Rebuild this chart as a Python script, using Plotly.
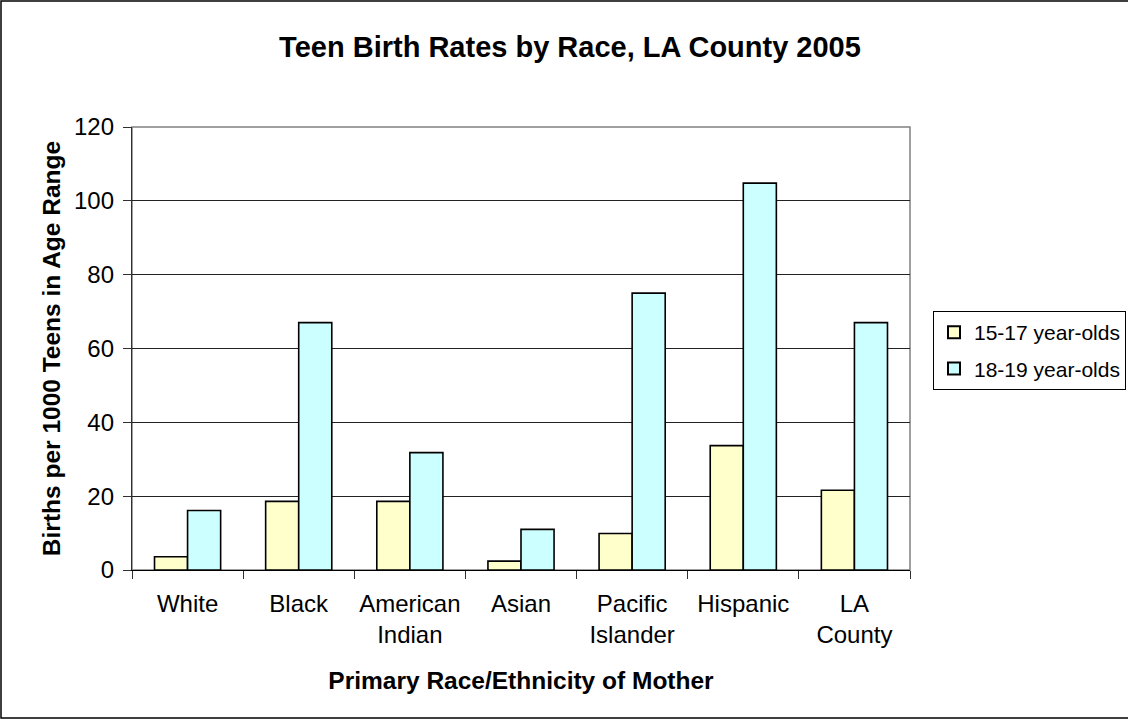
import plotly.graph_objects as go

categories = ["White", "Black", "American<br>Indian", "Asian", "Pacific<br>Islander", "Hispanic", "LA<br>County"]
age_15_17 = [3.6, 18.6, 18.6, 2.4, 9.9, 33.7, 21.6]
age_18_19 = [16.1, 67.0, 31.8, 11.0, 75.0, 104.8, 67.0]
series_names = ["15-17 year-olds", "18-19 year-olds"]
y_ticks = [0, 20, 40, 60, 80, 100, 120]

FONT = "Liberation Sans, Arial, sans-serif"

fig = go.Figure()
fig.add_trace(go.Bar(x=categories, y=age_15_17, name=series_names[0], legendgroup="a",
                     marker=dict(color="#FFFFCC", line=dict(color="black", width=1.6))))
fig.add_trace(go.Bar(x=categories, y=age_18_19, name=series_names[1], legendgroup="b",
                     marker=dict(color="#CCFFFF", line=dict(color="black", width=1.6))))

W, H = 1128, 719
L, R, T, B = 132, 910, 127, 570
pw, ph = R - L, B - T

fig.update_layout(
    width=W, height=H,
    margin=dict(l=L, r=W - R, t=T, b=H - B, autoexpand=False),
    paper_bgcolor="white", plot_bgcolor="white",
    font=dict(family=FONT, size=24, color="black"),
    title=dict(text="<b>Teen Birth Rates by Race, LA County 2005</b>",
               x=570 / W, xanchor="center", y=1 - 47 / H, yanchor="middle",
               font=dict(family=FONT, size=29, color="black")),
    barmode="group", bargap=0.405, bargroupgap=0,
    showlegend=True,
    legend=dict(x=(933 - L) / pw, y=(B - 311) / ph, xanchor="left", yanchor="top",
                bordercolor="black", borderwidth=1, bgcolor="white",
                font=dict(family=FONT, size=21, color="black"),
                traceorder="grouped", tracegroupgap=6, itemsizing="constant"),
    xaxis=dict(
        title=dict(text="<b>Primary Race/Ethnicity of Mother</b>", standoff=24,
                   font=dict(family=FONT, size=24.5)),
        showline=True, linecolor="black", linewidth=1.3, mirror=False,
        ticks="outside", tickson="boundaries", ticklen=8, tickcolor="#303030", tickwidth=1.3,
        ticklabelstandoff=12,
        showgrid=False, tickfont=dict(family=FONT, size=24),
    ),
    yaxis=dict(
        title=dict(text="<b>Births per 1000 Teens in Age Range</b>", standoff=6,
                   font=dict(family=FONT, size=24.5)),
        range=[0, 120], tickvals=y_ticks,
        showline=True, linecolor="#303030", linewidth=1.3, mirror=False,
        ticks="outside", ticklen=8, tickcolor="#303030", tickwidth=1.3,
        ticklabelstandoff=4,
        showgrid=True, gridcolor="#222222", gridwidth=1,
        tickfont=dict(family=FONT, size=24), zeroline=False,
    ),
)

# plot-area frame (grey top/right)
fig.add_shape(type="rect", xref="paper", yref="paper", x0=0, x1=1, y0=0, y1=1,
              line=dict(color="#808080", width=1.5), fillcolor="rgba(0,0,0,0)", layer="below")

# outer chart border
fig.add_shape(type="rect", xref="paper", yref="paper",
              x0=(1 - L) / pw, x1=(W + 20 - L) / pw,
              y0=(B - (H - 1)) / ph, y1=(B - 1) / ph,
              line=dict(color="black", width=1.5), fillcolor="rgba(0,0,0,0)", layer="below")

fig.write_html("out.html", config={"displayModeBar": False},
               post_script="document.body.style.margin='0px';document.body.style.overflow='hidden';")
